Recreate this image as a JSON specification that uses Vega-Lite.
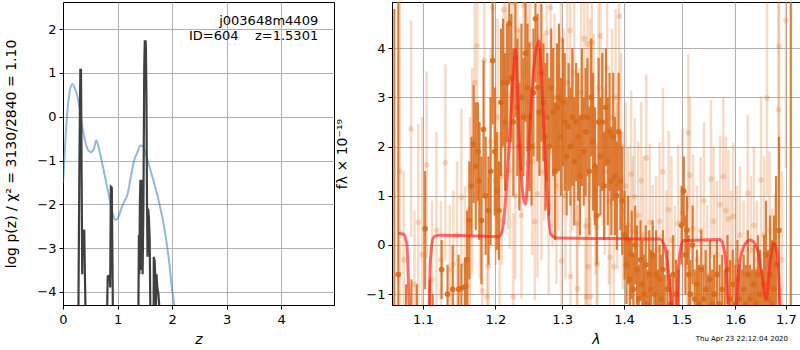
{
"$schema": "https://vega.github.io/schema/vega-lite/v6.json",
"padding": {"left": 4, "top": 1, "right": 0, "bottom": 0},
"bounds": "flush",
"spacing": 58,
"config": {
 "view": {"stroke": "black", "strokeWidth": 1},
 "axis": {"labelFont": "DejaVu Sans", "titleFont": "DejaVu Sans", "labelFontSize": 13, "titleFontSize": 14, "titleFontWeight": "normal", "labelColor": "black", "titleColor": "black", "tickColor": "black", "domainColor": "black", "tickSize": 4, "labelPadding": 3, "gridColor": "#b0b0b0", "gridWidth": 1, "labelFlush": false},
 "text": {"font": "DejaVu Sans"}
},
"datasets": {
 "blue": [{"z":0,"v":-1.52},{"z":0.05,"v":-0.41},{"z":0.08,"v":0.12},{"z":0.12,"v":0.55},{"z":0.17,"v":0.75},{"z":0.22,"v":0.64},{"z":0.26,"v":0.5},{"z":0.32,"v":0.05},{"z":0.38,"v":-0.41},{"z":0.46,"v":-0.76},{"z":0.51,"v":-0.81},{"z":0.57,"v":-0.72},{"z":0.61,"v":-0.54},{"z":0.67,"v":-0.79},{"z":0.75,"v":-1.25},{"z":0.84,"v":-1.79},{"z":0.91,"v":-2.2},{"z":0.96,"v":-2.36},{"z":1.02,"v":-2.28},{"z":1.07,"v":-2.09},{"z":1.13,"v":-1.92},{"z":1.18,"v":-1.79},{"z":1.24,"v":-1.4},{"z":1.3,"v":-1.02},{"z":1.36,"v":-0.83},{"z":1.42,"v":-0.66},{"z":1.47,"v":-0.68},{"z":1.54,"v":-0.95},{"z":1.63,"v":-1.33},{"z":1.73,"v":-1.79},{"z":1.85,"v":-2.48},{"z":1.94,"v":-3.24},{"z":2.0,"v":-3.93},{"z":2.06,"v":-4.45},{"z":2.1,"v":-4.8}],
 "gray": [{"z":0,"v":-8},{"z":0.27,"v":-8},{"z":0.285,"v":-4.0},{"z":0.3,"v":-1.2},{"z":0.318,"v":1.07},{"z":0.33,"v":1.07},{"z":0.34,"v":-1.0},{"z":0.352,"v":-3.6},{"z":0.36,"v":-2.6},{"z":0.39,"v":-2.6},{"z":0.4,"v":-3.5},{"z":0.41,"v":-4.2},{"z":0.42,"v":-8},{"z":0.8,"v":-8},{"z":0.812,"v":-4.2},{"z":0.82,"v":-3.65},{"z":0.855,"v":-3.62},{"z":0.865,"v":-3.9},{"z":0.87,"v":-3.0},{"z":0.878,"v":-1.6},{"z":0.895,"v":-1.62},{"z":0.905,"v":-3.0},{"z":0.915,"v":-4.5},{"z":0.93,"v":-8},{"z":1.37,"v":-8},{"z":1.385,"v":-4.0},{"z":1.392,"v":-2.7},{"z":1.4,"v":-3.6},{"z":1.41,"v":-2.0},{"z":1.42,"v":-1.44},{"z":1.43,"v":-3.5},{"z":1.44,"v":-1.44},{"z":1.46,"v":-3.6},{"z":1.475,"v":-2.0},{"z":1.49,"v":1.1},{"z":1.5,"v":1.72},{"z":1.515,"v":1.72},{"z":1.52,"v":1.6},{"z":1.53,"v":0.5},{"z":1.54,"v":-1.9},{"z":1.55,"v":-3.2},{"z":1.56,"v":-2.1},{"z":1.575,"v":-2.3},{"z":1.59,"v":-2.8},{"z":1.6,"v":-4.2},{"z":1.61,"v":-8},{"z":1.655,"v":-8},{"z":1.665,"v":-3.2},{"z":1.68,"v":-3.3},{"z":1.695,"v":-3.7},{"z":1.705,"v":-4.3},{"z":1.715,"v":-3.6},{"z":1.73,"v":-3.9},{"z":1.75,"v":-4.05},{"z":1.77,"v":-4.4},{"z":1.78,"v":-8},{"z":4.97,"v":-8}],
 "model": [{"w":1.068,"f":0.24},{"w":1.0746,"f":0.22},{"w":1.079,"f":0.02},{"w":1.0833,"f":-1.5},{"w":1.108,"f":-1.5},{"w":1.1097,"f":-0.39},{"w":1.1141,"f":0.16},{"w":1.1207,"f":0.2},{"w":1.16,"f":0.19},{"w":1.2048,"f":0.17},{"w":1.2098,"f":0.29},{"w":1.2195,"f":1.92},{"w":1.226,"f":3.48},{"w":1.2294,"f":3.98},{"w":1.2343,"f":2.26},{"w":1.2408,"f":0.97},{"w":1.2442,"f":0.83},{"w":1.2491,"f":2.05},{"w":1.2566,"f":3.61},{"w":1.2644,"f":4.15},{"w":1.2694,"f":3.07},{"w":1.2746,"f":1.58},{"w":1.2823,"f":0.22},{"w":1.2927,"f":0.14},{"w":1.38,"f":0.13},{"w":1.461,"f":0.12},{"w":1.4705,"f":-0.05},{"w":1.4794,"f":-0.86},{"w":1.4855,"f":-1.5},{"w":1.491,"f":-1.5},{"w":1.4946,"f":-0.45},{"w":1.5028,"f":0.09},{"w":1.54,"f":0.1},{"w":1.5706,"f":0.11},{"w":1.5801,"f":-0.18},{"w":1.5896,"f":-1.5},{"w":1.5994,"f":-1.5},{"w":1.606,"f":-0.59},{"w":1.6155,"f":-0.05},{"w":1.6287,"f":0.1},{"w":1.6417,"f":-0.05},{"w":1.6518,"f":-0.59},{"w":1.66,"f":-1.1},{"w":1.6686,"f":-0.32},{"w":1.6755,"f":0.03},{"w":1.6823,"f":-0.18},{"w":1.6891,"f":-1.5}],
 "dark": [
{"w":1.063,"f":-2.5,"lo":-9.8,"hi":4.8},{"w":1.068,"f":-0.6,"lo":-6.6,"hi":5.4},{"w":1.078,"f":-1.6,"lo":-2.4,"hi":-0.8},{"w":1.085,"f":-1.3,"lo":-1.9,"hi":-0.7},{"w":1.092,"f":-1.8,"lo":-2.8,"hi":-0.8},{"w":1.103,"f":0.33,"lo":-0.9,"hi":1.5},{"w":1.109,"f":-1.4,"lo":-2.1,"hi":-0.7},{"w":1.113,"f":-1.8,"lo":-2.6,"hi":-1.0},{"w":1.125,"f":-0.5,"lo":-1.1,"hi":0.1},{"w":1.133,"f":-1.0,"lo":-1.6,"hi":-0.4},{"w":1.14,"f":-0.9,"lo":-1.8,"hi":0.0},{"w":1.148,"f":-0.9,"lo":-1.6,"hi":-0.2},{"w":1.152,"f":-0.88,"lo":-1.38,"hi":-0.38},{"w":1.157,"f":-0.85,"lo":-1.45,"hi":-0.25},{"w":1.16,"f":-0.3,"lo":-1.3,"hi":0.7},{"w":1.163,"f":0.5,"lo":-0.7,"hi":1.7},
{"w":1.166,"f":1.2,"lo":0.2,"hi":2.2},{"w":1.169,"f":2.05,"lo":0.85,"hi":3.25},{"w":1.172,"f":1.6,"lo":0.3,"hi":2.9},{"w":1.175,"f":1.9,"lo":0.9,"hi":2.9},{"w":1.177,"f":1.3,"lo":0.1,"hi":2.5},{"w":1.18,"f":0.5,"lo":-0.8,"hi":1.8},{"w":1.183,"f":2.35,"lo":0.95,"hi":3.75},{"w":1.186,"f":1.0,"lo":-0.2,"hi":2.2},{"w":1.19,"f":0.7,"lo":-0.4,"hi":1.8},{"w":1.193,"f":1.5,"lo":0.0,"hi":3.0},{"w":1.196,"f":3.75,"lo":2.45,"hi":5.05},{"w":1.199,"f":1.9,"lo":0.6,"hi":3.2},{"w":1.202,"f":1.1,"lo":-0.1,"hi":2.3},{"w":1.205,"f":0.7,"lo":-0.3,"hi":1.7},{"w":1.208,"f":2.9,"lo":1.4,"hi":4.4},
{"w":1.211,"f":3.3,"lo":2.0,"hi":4.6},{"w":1.214,"f":2.5,"lo":1.1,"hi":3.9},{"w":1.217,"f":3.3,"lo":2.1,"hi":4.5},{"w":1.22,"f":4.5,"lo":3.3,"hi":5.7},{"w":1.223,"f":3.4,"lo":2.1,"hi":4.7},{"w":1.226,"f":2.5,"lo":1.0,"hi":4.0},{"w":1.229,"f":3.8,"lo":2.6,"hi":5.0},{"w":1.232,"f":2.8,"lo":1.4,"hi":4.2},{"w":1.235,"f":2.0,"lo":0.7,"hi":3.3},{"w":1.238,"f":3.0,"lo":1.5,"hi":4.5},{"w":1.241,"f":2.6,"lo":1.4,"hi":3.8},{"w":1.244,"f":3.9,"lo":2.5,"hi":5.3},{"w":1.247,"f":3.2,"lo":1.9,"hi":4.5},{"w":1.25,"f":2.6,"lo":1.1,"hi":4.1},{"w":1.253,"f":2.0,"lo":0.8,"hi":3.2},{"w":1.256,"f":3.1,"lo":1.8,"hi":4.4},{"w":1.259,"f":4.6,"lo":3.3,"hi":5.9},{"w":1.262,"f":3.2,"lo":1.7,"hi":4.7},{"w":1.265,"f":2.7,"lo":1.4,"hi":4.0},{"w":1.268,"f":3.5,"lo":2.1,"hi":4.9},{"w":1.271,"f":2.9,"lo":1.7,"hi":4.1},{"w":1.274,"f":2.2,"lo":0.7,"hi":3.7},{"w":1.277,"f":2.6,"lo":1.3,"hi":3.9},{"w":1.28,"f":2.0,"lo":0.6,"hi":3.4},{"w":1.283,"f":3.2,"lo":2.0,"hi":4.4},{"w":1.286,"f":2.7,"lo":1.4,"hi":4.0},{"w":1.289,"f":1.5,"lo":0.1,"hi":2.9},{"w":1.292,"f":2.8,"lo":1.5,"hi":4.1},{"w":1.295,"f":3.0,"lo":1.5,"hi":4.5},{"w":1.298,"f":2.2,"lo":1.0,"hi":3.4},
{"w":1.301,"f":2.9,"lo":1.6,"hi":4.2},{"w":1.304,"f":2.5,"lo":1.1,"hi":3.9},{"w":1.307,"f":1.8,"lo":0.6,"hi":3.0},{"w":1.31,"f":2.4,"lo":1.1,"hi":3.7},{"w":1.313,"f":2.0,"lo":0.8,"hi":3.2},{"w":1.316,"f":2.6,"lo":1.2,"hi":4.0},{"w":1.319,"f":1.7,"lo":0.4,"hi":3.0},{"w":1.322,"f":2.5,"lo":1.3,"hi":3.7},{"w":1.325,"f":2.2,"lo":0.9,"hi":3.5},{"w":1.328,"f":1.4,"lo":0.2,"hi":2.6},{"w":1.331,"f":2.6,"lo":1.2,"hi":4.0},{"w":1.334,"f":1.9,"lo":0.8,"hi":3.0},{"w":1.337,"f":2.3,"lo":1.0,"hi":3.6},{"w":1.34,"f":2.6,"lo":1.4,"hi":3.8},{"w":1.343,"f":1.5,"lo":0.2,"hi":2.8},{"w":1.346,"f":3.0,"lo":1.8,"hi":4.2},{"w":1.349,"f":2.1,"lo":0.7,"hi":3.5},{"w":1.352,"f":1.6,"lo":0.4,"hi":2.8},{"w":1.355,"f":0.6,"lo":-0.4,"hi":1.6},{"w":1.358,"f":2.5,"lo":1.2,"hi":3.8},{"w":1.361,"f":1.8,"lo":0.6,"hi":3.0},{"w":1.364,"f":2.5,"lo":1.1,"hi":3.9},{"w":1.367,"f":1.2,"lo":0.1,"hi":2.3},{"w":1.37,"f":2.8,"lo":1.6,"hi":4.0},{"w":1.373,"f":1.7,"lo":0.4,"hi":3.0},{"w":1.376,"f":2.3,"lo":1.1,"hi":3.5},{"w":1.379,"f":1.3,"lo":0.2,"hi":2.4},{"w":1.382,"f":2.2,"lo":0.9,"hi":3.5},{"w":1.385,"f":1.4,"lo":0.2,"hi":2.6},{"w":1.388,"f":1.0,"lo":-0.1,"hi":2.1},{"w":1.391,"f":2.3,"lo":1.1,"hi":3.5},{"w":1.394,"f":1.3,"lo":0.3,"hi":2.3},{"w":1.397,"f":0.9,"lo":-0.2,"hi":2.0},
{"w":1.401,"f":0.2,"lo":-0.7,"hi":1.1},{"w":1.404,"f":-0.4,"lo":-1.2,"hi":0.4},{"w":1.407,"f":0.1,"lo":-0.8,"hi":1.0},{"w":1.41,"f":-0.7,"lo":-1.5,"hi":0.1},{"w":1.413,"f":-0.2,"lo":-1.1,"hi":0.7},{"w":1.416,"f":-0.9,"lo":-1.6,"hi":-0.2},{"w":1.419,"f":0.0,"lo":-0.8,"hi":0.8},{"w":1.422,"f":-0.5,"lo":-1.4,"hi":0.4},{"w":1.425,"f":-1.1,"lo":-1.8,"hi":-0.4},{"w":1.428,"f":-0.3,"lo":-1.1,"hi":0.5},{"w":1.431,"f":-0.8,"lo":-1.7,"hi":0.1},{"w":1.434,"f":-1.0,"lo":-1.8,"hi":-0.2},{"w":1.437,"f":-0.4,"lo":-1.2,"hi":0.4},{"w":1.44,"f":-1.2,"lo":-1.9,"hi":-0.5},{"w":1.443,"f":-0.6,"lo":-1.5,"hi":0.3},{"w":1.446,"f":-0.9,"lo":-1.7,"hi":-0.1},{"w":1.449,"f":-0.2,"lo":-0.9,"hi":0.5},{"w":1.452,"f":-1.0,"lo":-1.8,"hi":-0.2},{"w":1.455,"f":-0.6,"lo":-1.5,"hi":0.3},{"w":1.458,"f":-1.3,"lo":-2.1,"hi":-0.5},{"w":1.461,"f":-0.7,"lo":-1.4,"hi":0.0},{"w":1.464,"f":-1.1,"lo":-2.0,"hi":-0.2},{"w":1.467,"f":-0.5,"lo":-1.3,"hi":0.3},{"w":1.47,"f":-1.3,"lo":-2.0,"hi":-0.6},{"w":1.475,"f":-0.9,"lo":-1.7,"hi":-0.1},{"w":1.48,"f":-1.2,"lo":-1.8,"hi":-0.6},{"w":1.485,"f":-0.6,"lo":-1.4,"hi":0.2},{"w":1.49,"f":-1.0,"lo":-1.7,"hi":-0.3},{"w":1.495,"f":-1.3,"lo":-2.1,"hi":-0.5},
{"w":1.5,"f":0.4,"lo":-0.4,"hi":1.2},{"w":1.504,"f":1.1,"lo":0.4,"hi":1.8},{"w":1.507,"f":-0.2,"lo":-1.0,"hi":0.6},{"w":1.51,"f":0.3,"lo":-0.4,"hi":1.0},{"w":1.513,"f":-0.6,"lo":-1.4,"hi":0.2},{"w":1.516,"f":-1.0,"lo":-1.7,"hi":-0.3},{"w":1.52,"f":0.0,"lo":-0.8,"hi":0.8},{"w":1.524,"f":-1.1,"lo":-1.7,"hi":-0.5},{"w":1.528,"f":-0.8,"lo":-1.5,"hi":-0.1},{"w":1.532,"f":-1.2,"lo":-2.0,"hi":-0.4},{"w":1.536,"f":-0.5,"lo":-1.3,"hi":0.3},{"w":1.54,"f":-1.1,"lo":-1.8,"hi":-0.4},{"w":1.544,"f":-0.9,"lo":-1.7,"hi":-0.1},{"w":1.548,"f":-1.3,"lo":-2.0,"hi":-0.6},{"w":1.552,"f":-0.7,"lo":-1.5,"hi":0.1},{"w":1.556,"f":-1.2,"lo":-1.9,"hi":-0.5},{"w":1.56,"f":-1.0,"lo":-1.8,"hi":-0.2},{"w":1.565,"f":-0.6,"lo":-1.3,"hi":0.1},{"w":1.57,"f":-1.2,"lo":-2.0,"hi":-0.4},{"w":1.575,"f":-0.9,"lo":-1.6,"hi":-0.2},{"w":1.58,"f":-1.3,"lo":-2.1,"hi":-0.5},{"w":1.585,"f":-0.5,"lo":-1.2,"hi":0.2},{"w":1.59,"f":-1.1,"lo":-1.9,"hi":-0.3},{"w":1.595,"f":-0.8,"lo":-1.5,"hi":-0.1},
{"w":1.6,"f":-1.2,"lo":-2.0,"hi":-0.4},{"w":1.604,"f":-0.7,"lo":-1.5,"hi":0.1},{"w":1.608,"f":-1.1,"lo":-1.8,"hi":-0.4},{"w":1.612,"f":-1.3,"lo":-2.1,"hi":-0.5},{"w":1.616,"f":-0.9,"lo":-1.6,"hi":-0.2},{"w":1.62,"f":-1.2,"lo":-2.0,"hi":-0.4},{"w":1.624,"f":-0.6,"lo":-1.5,"hi":0.3},{"w":1.628,"f":-1.1,"lo":-1.8,"hi":-0.4},{"w":1.632,"f":-1.3,"lo":-2.1,"hi":-0.5},{"w":1.636,"f":-0.8,"lo":-1.6,"hi":0.0},{"w":1.64,"f":-1.2,"lo":-1.9,"hi":-0.5},{"w":1.644,"f":-0.6,"lo":-1.4,"hi":0.2},{"w":1.648,"f":-1.0,"lo":-1.9,"hi":-0.1},{"w":1.652,"f":-1.3,"lo":-2.1,"hi":-0.5},{"w":1.656,"f":-0.8,"lo":-1.8,"hi":0.2},{"w":1.66,"f":-0.2,"lo":-1.3,"hi":0.9},{"w":1.664,"f":-1.1,"lo":-2.1,"hi":-0.1},{"w":1.668,"f":-0.6,"lo":-1.8,"hi":0.6},{"w":1.672,"f":-1.2,"lo":-2.5,"hi":0.1},{"w":1.676,"f":-0.9,"lo":-2.4,"hi":0.6},{"w":1.68,"f":-0.4,"lo":-2.2,"hi":1.4},{"w":1.686,"f":0.3,"lo":-1.6,"hi":2.2},{"w":1.71,"f":-3.0,"lo":-11,"hi":5}
 ],
 "light": [
{"w":1.070,"f":1.5,"lo":-2.0,"hi":5.0},{"w":1.075,"f":-0.3,"lo":-2.1,"hi":1.5},{"w":1.0846,"f":2.36,"lo":0.16,"hi":4.56},{"w":1.089,"f":-0.8,"lo":-2.3,"hi":0.7},{"w":1.094,"f":0.46,"lo":-1.54,"hi":2.46},{"w":1.099,"f":-0.2,"lo":-3.0,"hi":2.6},{"w":1.105,"f":1.63,"lo":-0.27,"hi":3.53},{"w":1.112,"f":-0.7,"lo":-2.3,"hi":0.9},{"w":1.118,"f":0.3,"lo":-1.7,"hi":2.3},{"w":1.124,"f":-0.3,"lo":-1.5,"hi":0.9},{"w":1.130,"f":1.67,"lo":-0.33,"hi":3.67},{"w":1.136,"f":-0.5,"lo":-1.8,"hi":0.8},{"w":1.141,"f":-0.39,"lo":-1.89,"hi":1.11},{"w":1.146,"f":0.2,"lo":-1.3,"hi":1.7},{"w":1.152,"f":0.97,"lo":-0.83,"hi":2.77},{"w":1.157,"f":-0.4,"lo":-2.0,"hi":1.2},{"w":1.161,"f":-0.83,"lo":-2.43,"hi":0.77},{"w":1.164,"f":0.4,"lo":-1.8,"hi":2.6},{"w":1.167,"f":1.5,"lo":-0.6,"hi":3.6},{"w":1.1705,"f":3.3,"lo":1.5,"hi":5.1},{"w":1.174,"f":4.05,"lo":2.55,"hi":5.55},{"w":1.178,"f":0.9,"lo":-0.7,"hi":2.5},{"w":1.181,"f":-0.93,"lo":-2.73,"hi":0.87},{"w":1.184,"f":3.75,"lo":2.15,"hi":5.35},{"w":1.188,"f":-1.05,"lo":-3.05,"hi":0.95},{"w":1.190,"f":-0.42,"lo":-2.22,"hi":1.38},{"w":1.193,"f":2.1,"lo":0.2,"hi":4.0},{"w":1.196,"f":4.83,"lo":2.83,"hi":6.83},{"w":1.200,"f":1.3,"lo":-0.4,"hi":3.0},{"w":1.203,"f":2.6,"lo":0.6,"hi":4.6},{"w":1.206,"f":0.5,"lo":-1.3,"hi":2.3},{"w":1.209,"f":1.4,"lo":-0.4,"hi":3.2},{"w":1.212,"f":4.78,"lo":2.88,"hi":6.68},{"w":1.215,"f":3.4,"lo":1.4,"hi":5.4},{"w":1.218,"f":2.12,"lo":0.32,"hi":3.92},{"w":1.221,"f":1.52,"lo":-0.08,"hi":3.12},{"w":1.225,"f":4.93,"lo":2.93,"hi":6.93},{"w":1.226,"f":-1.05,"lo":-2.75,"hi":0.65},{"w":1.229,"f":1.0,"lo":-0.7,"hi":2.7},{"w":1.232,"f":4.36,"lo":2.36,"hi":6.36},{"w":1.235,"f":2.6,"lo":0.8,"hi":4.4},{"w":1.238,"f":0.6,"lo":-1.1,"hi":2.3},{"w":1.241,"f":4.88,"lo":2.98,"hi":6.78},{"w":1.244,"f":3.5,"lo":1.6,"hi":5.4},{"w":1.248,"f":2.9,"lo":0.9,"hi":4.9},{"w":1.251,"f":4.09,"lo":2.29,"hi":5.89},{"w":1.254,"f":1.7,"lo":-0.2,"hi":3.6},{"w":1.258,"f":0.48,"lo":-1.12,"hi":2.08},{"w":1.262,"f":1.04,"lo":-0.66,"hi":2.74},{"w":1.265,"f":3.7,"lo":1.7,"hi":5.7},{"w":1.268,"f":1.5,"lo":-0.3,"hi":3.3},{"w":1.272,"f":2.4,"lo":0.5,"hi":4.3},{"w":1.276,"f":4.32,"lo":2.62,"hi":6.02},{"w":1.279,"f":0.8,"lo":-1.0,"hi":2.6},{"w":1.282,"f":4.83,"lo":3.03,"hi":6.63},{"w":1.285,"f":1.9,"lo":0.0,"hi":3.8},{"w":1.288,"f":3.0,"lo":1.3,"hi":4.7},{"w":1.291,"f":1.2,"lo":-0.8,"hi":3.2},{"w":1.294,"f":2.0,"lo":0.3,"hi":3.7},{"w":1.298,"f":4.17,"lo":2.37,"hi":5.97},{"w":1.299,"f":-0.32,"lo":-1.92,"hi":1.28},{"w":1.302,"f":2.5,"lo":0.6,"hi":4.4},{"w":1.305,"f":1.0,"lo":-0.7,"hi":2.7},{"w":1.308,"f":3.3,"lo":1.5,"hi":5.1},{"w":1.3125,"f":4.36,"lo":2.46,"hi":6.26},{"w":1.313,"f":-0.64,"lo":-2.24,"hi":0.96},{"w":1.316,"f":2.1,"lo":0.3,"hi":3.9},{"w":1.319,"f":3.5,"lo":1.6,"hi":5.4},{"w":1.323,"f":0.44,"lo":-1.26,"hi":2.14},{"w":1.324,"f":-0.89,"lo":-2.59,"hi":0.81},{"w":1.327,"f":1.8,"lo":0.0,"hi":3.6},{"w":1.330,"f":3.1,"lo":1.2,"hi":5.0},{"w":1.335,"f":4.19,"lo":2.49,"hi":5.89},{"w":1.337,"f":0.39,"lo":-1.21,"hi":1.99},{"w":1.338,"f":-1.05,"lo":-2.65,"hi":0.55},{"w":1.340,"f":4.09,"lo":2.29,"hi":5.89},{"w":1.341,"f":-0.44,"lo":-2.14,"hi":1.26},{"w":1.344,"f":2.8,"lo":1.0,"hi":4.6},{"w":1.345,"f":-1.05,"lo":-2.65,"hi":0.55},{"w":1.347,"f":4.12,"lo":2.32,"hi":5.92},{"w":1.350,"f":2.4,"lo":0.5,"hi":4.3},{"w":1.353,"f":1.1,"lo":-0.6,"hi":2.8},{"w":1.355,"f":0.36,"lo":-1.34,"hi":2.06},{"w":1.356,"f":-0.39,"lo":-1.99,"hi":1.21},{"w":1.358,"f":3.2,"lo":1.4,"hi":5.0},{"w":1.361,"f":4.25,"lo":2.35,"hi":6.15},{"w":1.365,"f":2.2,"lo":0.4,"hi":4.0},{"w":1.368,"f":1.5,"lo":-0.2,"hi":3.2},{"w":1.372,"f":3.6,"lo":1.7,"hi":5.5},{"w":1.375,"f":0.9,"lo":-0.8,"hi":2.6},{"w":1.377,"f":-0.25,"lo":-1.85,"hi":1.35},{"w":1.380,"f":2.6,"lo":0.8,"hi":4.4},{"w":1.383,"f":-0.44,"lo":-2.04,"hi":1.16},{"w":1.386,"f":3.0,"lo":1.2,"hi":4.8},{"w":1.389,"f":1.2,"lo":-0.5,"hi":2.9},{"w":1.392,"f":4.65,"lo":2.95,"hi":6.35},{"w":1.395,"f":2.0,"lo":0.1,"hi":3.9},{"w":1.398,"f":0.7,"lo":-0.9,"hi":2.3},{"w":1.403,"f":1.2,"lo":-0.5,"hi":2.9},{"w":1.407,"f":0.4,"lo":-1.2,"hi":2.0},{"w":1.412,"f":1.44,"lo":-0.26,"hi":3.14},{"w":1.415,"f":0.3,"lo":-1.2,"hi":1.8},{"w":1.418,"f":0.98,"lo":-0.62,"hi":2.58},{"w":1.424,"f":0.6,"lo":-0.9,"hi":2.1},{"w":1.429,"f":1.31,"lo":-0.29,"hi":2.91},{"w":1.433,"f":0.2,"lo":-1.4,"hi":1.8},{"w":1.438,"f":1.77,"lo":0.07,"hi":3.47},{"w":1.444,"f":0.46,"lo":-1.14,"hi":2.06},{"w":1.449,"f":-0.28,"lo":-1.78,"hi":1.22},{"w":1.455,"f":-0.1,"lo":-1.6,"hi":1.4},{"w":1.461,"f":0.48,"lo":-1.12,"hi":2.08},{"w":1.467,"f":1.49,"lo":-0.21,"hi":3.19},{"w":1.473,"f":-0.39,"lo":-1.89,"hi":1.11},{"w":1.477,"f":0.72,"lo":-0.88,"hi":2.32},{"w":1.482,"f":0.1,"lo":-1.6,"hi":1.8},{"w":1.488,"f":-0.7,"lo":-2.2,"hi":0.8},{"w":1.494,"f":0.44,"lo":-1.16,"hi":2.04},{"w":1.502,"f":0.66,"lo":-1.04,"hi":2.36},{"w":1.509,"f":-0.43,"lo":-1.93,"hi":1.07},{"w":1.512,"f":2.28,"lo":0.68,"hi":3.88},{"w":1.515,"f":1.42,"lo":-0.18,"hi":3.02},{"w":1.521,"f":0.33,"lo":-1.17,"hi":1.83},{"w":1.528,"f":-0.3,"lo":-1.8,"hi":1.2},{"w":1.535,"f":0.29,"lo":-1.21,"hi":1.79},{"w":1.541,"f":0.9,"lo":-0.7,"hi":2.5},{"w":1.547,"f":-0.59,"lo":-1.99,"hi":0.81},{"w":1.554,"f":1.34,"lo":-0.26,"hi":2.94},{"w":1.559,"f":0.48,"lo":-1.02,"hi":1.98},{"w":1.565,"f":-0.2,"lo":-1.7,"hi":1.3},{"w":1.571,"f":0.82,"lo":-0.58,"hi":2.22},{"w":1.577,"f":1.39,"lo":-0.21,"hi":2.99},{"w":1.582,"f":0.70,"lo":-0.8,"hi":2.2},{"w":1.587,"f":0.53,"lo":-0.87,"hi":1.93},{"w":1.592,"f":-0.4,"lo":-1.9,"hi":1.1},{"w":1.596,"f":0.58,"lo":-0.92,"hi":2.08},{"w":1.603,"f":-0.3,"lo":-1.8,"hi":1.2},{"w":1.609,"f":0.2,"lo":-1.2,"hi":1.6},{"w":1.616,"f":-0.6,"lo":-2.1,"hi":0.9},{"w":1.624,"f":1.05,"lo":-0.55,"hi":2.65},{"w":1.630,"f":-0.1,"lo":-1.6,"hi":1.4},{"w":1.636,"f":0.4,"lo":-1.2,"hi":2.0},{"w":1.642,"f":-0.5,"lo":-1.9,"hi":0.9},{"w":1.650,"f":1.32,"lo":-0.38,"hi":3.02},{"w":1.656,"f":0.2,"lo":-1.4,"hi":1.8},{"w":1.662,"f":2.99,"lo":0.99,"hi":4.99},{"w":1.667,"f":0.3,"lo":-1.3,"hi":1.9},{"w":1.672,"f":-0.86,"lo":-2.46,"hi":0.74},{"w":1.678,"f":-0.66,"lo":-2.36,"hi":1.04},{"w":1.685,"f":2.75,"lo":0.45,"hi":5.05},{"w":1.686,"f":4.04,"lo":1.54,"hi":6.54},{"w":1.692,"f":-0.3,"lo":-2.1,"hi":1.5},{"w":1.700,"f":4.56,"lo":1.56,"hi":7.56}
 ]
},
"hconcat": [
 {
  "width": 271, "height": 303,
  "layer": [
   {"data": {"name": "blue"}, "mark": {"type": "line", "color": "#1f77b4", "opacity": 0.5, "strokeWidth": 2, "clip": true, "interpolate": "monotone"},
    "encoding": {
     "x": {"field": "z", "type": "quantitative", "scale": {"domain": [0, 4.97], "nice": false, "zero": false}, "axis": {"values": [0,1,2,3,4], "title": "z", "titleFontStyle": "italic", "labelPadding": 4, "titlePadding": 6}},
     "y": {"field": "v", "type": "quantitative", "scale": {"domain": [-4.3, 2.62], "nice": false, "zero": false}, "axis": {"values": [-4,-3,-2,-1,0,1,2], "title": "log p(z) / χ² = 3130/2840 = 1.10", "titlePadding": 18}}
    }},
   {"data": {"name": "gray"}, "mark": {"type": "line", "color": "#404040", "strokeWidth": 2.2, "clip": true},
    "encoding": {"x": {"field": "z", "type": "quantitative"}, "y": {"field": "v", "type": "quantitative"}}},
   {"data": {"values": [{"t": "j003648m4409"}]}, "mark": {"type": "text", "align": "right", "baseline": "middle", "fontSize": 13, "color": "black"},
    "encoding": {"x": {"datum": 4.68}, "y": {"datum": 2.18}, "text": {"field": "t"}}},
   {"data": {"values": [{"t": "ID=604\u00a0\u00a0\u00a0\u00a0z=1.5301"}]}, "mark": {"type": "text", "align": "right", "baseline": "middle", "fontSize": 13, "color": "black"},
    "encoding": {"x": {"datum": 4.68}, "y": {"datum": 1.84}, "text": {"field": "t"}}}
  ]
 },
 {
  "width": 408, "height": 303,
  "title": {"text": "Thu Apr 23 22:12:04 2020", "orient": "bottom", "anchor": "end", "fontSize": 7, "fontWeight": "normal", "font": "DejaVu Sans", "color": "black", "offset": -11, "dx": -12},
  "layer": [
   {"data": {"name": "light"}, "mark": {"type": "rule", "strokeWidth": 2.5, "color": "#e07020", "opacity": 0.25, "clip": true},
    "encoding": {
     "x": {"field": "w", "type": "quantitative", "scale": {"type": "log", "domain": [1.06, 1.729], "nice": false}, "axis": {"values": [1.1,1.2,1.3,1.4,1.5,1.6,1.7], "format": ".1f", "title": "λ", "titleFontStyle": "italic", "labelPadding": 4, "titlePadding": 6}},
     "y": {"field": "lo", "type": "quantitative", "scale": {"domain": [-1.22, 4.94], "nice": false, "zero": false}, "axis": {"values": [-1,0,1,2,3,4], "title": "fλ × 10⁻¹⁹", "titlePadding": 16}},
     "y2": {"field": "hi"}
    }},
   {"data": {"name": "light"}, "mark": {"type": "circle", "size": 32, "color": "#e07020", "opacity": 0.25, "clip": true},
    "encoding": {"x": {"field": "w", "type": "quantitative"}, "y": {"field": "f", "type": "quantitative"}}},
   {"data": {"name": "dark"}, "mark": {"type": "rule", "strokeWidth": 2.2, "color": "#d86a1a", "opacity": 0.85, "clip": true},
    "encoding": {"x": {"field": "w", "type": "quantitative"}, "y": {"field": "lo", "type": "quantitative"}, "y2": {"field": "hi"}}},
   {"data": {"name": "dark"}, "mark": {"type": "circle", "size": 32, "color": "#d86a1a", "opacity": 0.9, "clip": true},
    "encoding": {"x": {"field": "w", "type": "quantitative"}, "y": {"field": "f", "type": "quantitative"}}},
   {"data": {"name": "model"}, "mark": {"type": "line", "color": "#ff2020", "opacity": 0.65, "strokeWidth": 3, "clip": true, "interpolate": "monotone"},
    "encoding": {"x": {"field": "w", "type": "quantitative"}, "y": {"field": "f", "type": "quantitative"}}},
   {"mark": {"type": "rule", "color": "black", "strokeWidth": 2, "strokeDash": [2, 3]},
    "encoding": {"y": {"datum": 0}}}
  ]
 }
]
}
